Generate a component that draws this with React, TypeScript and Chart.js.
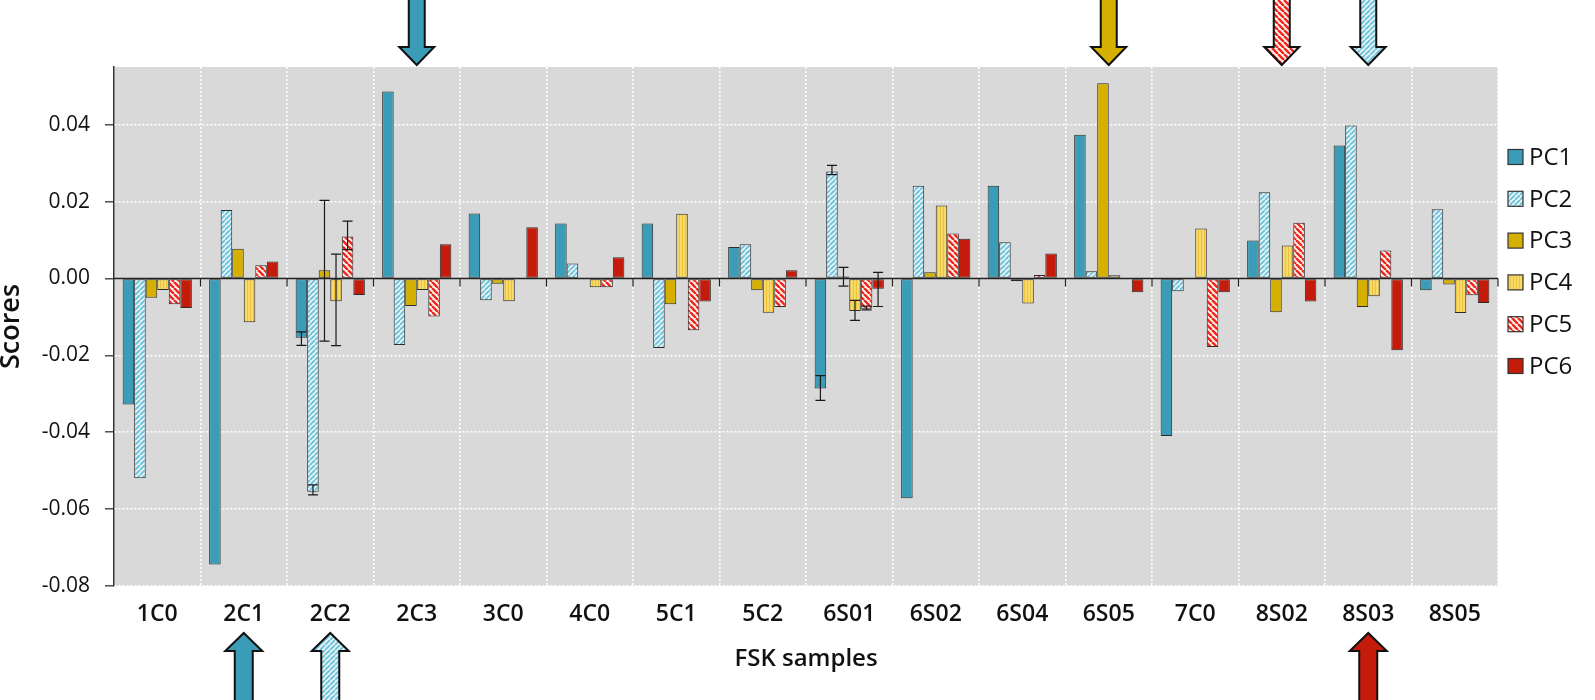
import React, { useEffect, useRef } from 'react';
import { Chart, registerables } from 'chart.js';

Chart.register(...registerables);

// ---------- data ----------
const categories = ['1C0', '2C1', '2C2', '2C3', '3C0', '4C0', '5C1', '5C2', '6S01', '6S02', '6S04', '6S05', '7C0', '8S02', '8S03', '8S05'];
const seriesNames = ['PC1', 'PC2', 'PC3', 'PC4', 'PC5', 'PC6'];

const pc1 = [-0.0328, -0.0744, -0.0154, 0.0486, 0.0169, 0.0143, 0.0143, 0.0082, -0.0286, -0.0572, 0.0241, 0.0374, -0.0410, 0.0099, 0.0346, -0.0031];
const pc2 = [-0.0520, 0.0178, -0.0555, -0.0173, -0.0057, 0.0039, -0.0181, 0.0089, 0.0278, 0.0241, 0.0094, 0.0019, -0.0033, 0.0224, 0.0398, 0.0180];
const pc3 = [-0.0050, 0.0077, 0.0021, -0.0072, -0.0014, -0.0002, -0.0067, -0.0031, 0.0005, 0.0016, -0.0007, 0.0508, 0.0002, -0.0088, -0.0074, -0.0016];
const pc4 = [-0.0030, -0.0114, -0.0059, -0.0030, -0.0059, -0.0023, 0.0168, -0.0089, -0.0085, 0.0190, -0.0065, 0.0008, 0.0130, 0.0086, -0.0046, -0.0090];
const pc5 = [-0.0067, 0.0034, 0.0109, -0.0099, 0.0002, -0.0023, -0.0135, -0.0074, -0.0079, 0.0117, 0.0009, 0.0002, -0.0178, 0.0145, 0.0073, -0.0044];
const pc6 = [-0.0077, 0.0044, -0.0043, 0.0089, 0.0133, 0.0055, -0.0060, 0.0021, -0.0027, 0.0103, 0.0065, -0.0036, -0.0036, -0.0060, -0.0187, -0.0064];

// error bars: category, series index, low, high
const errorBars = [
  { cat: '2C2', s: 0, lo: -0.0174, hi: -0.0139 },
  { cat: '2C2', s: 1, lo: -0.0563, hi: -0.0537 },
  { cat: '2C2', s: 2, lo: -0.0163, hi: 0.0203 },
  { cat: '2C2', s: 3, lo: -0.0175, hi: 0.0063 },
  { cat: '2C2', s: 4, lo: 0.0075, hi: 0.0149 },
  { cat: '6S01', s: 0, lo: -0.0317, hi: -0.0253 },
  { cat: '6S01', s: 1, lo: 0.0270, hi: 0.0294 },
  { cat: '6S01', s: 2, lo: -0.0020, hi: 0.0029 },
  { cat: '6S01', s: 3, lo: -0.0109, hi: -0.0057 },
  { cat: '6S01', s: 4, lo: -0.0082, hi: -0.0072 },
  { cat: '6S01', s: 5, lo: -0.0073, hi: 0.0016 },
];

// highlighted arrows: category, series index, side
const arrows = [
  { cat: '2C3', s: 0, side: 'top' },
  { cat: '6S05', s: 2, side: 'top' },
  { cat: '8S02', s: 4, side: 'top' },
  { cat: '8S03', s: 1, side: 'top' },
  { cat: '2C1', s: 0, side: 'bottom' },
  { cat: '2C2', s: 1, side: 'bottom' },
  { cat: '8S03', s: 5, side: 'bottom' },
];

const yTickValues = [-0.08, -0.06, -0.04, -0.02, 0, 0.02, 0.04];
const yMin = -0.08;
const yMax = 0.055;

// ---------- styles ----------
function stripePattern(bg: string, fg: string, size: number, width: number, dir: string): CanvasPattern | string {
  const c = document.createElement('canvas');
  c.width = size;
  c.height = size;
  const g = c.getContext('2d');
  if (!g) return bg;
  g.fillStyle = bg;
  g.fillRect(0, 0, size, size);
  g.strokeStyle = fg;
  g.lineWidth = width;
  g.beginPath();
  if (dir === 'v') {
    g.moveTo(size / 2, 0);
    g.lineTo(size / 2, size);
  } else {
    for (let k = -1; k <= 1; k++) {
      if (dir === '/') {
        g.moveTo(k * size, size);
        g.lineTo(k * size + size, 0);
      } else {
        g.moveTo(k * size, 0);
        g.lineTo(k * size + size, size);
      }
    }
  }
  g.stroke();
  const p = g.createPattern(c, 'repeat');
  return p || bg;
}

function makeFills(): (string | CanvasPattern)[] {
  return [
    '#3a9cb6',
    stripePattern('#eef8fb', '#72c4da', 5, 2, '/'),
    '#d5b000',
    stripePattern('#f7da6a', '#ebc23a', 3, 1, 'v'),
    stripePattern('#ffffff', '#f4281c', 6, 2.6, '\\'),
    '#c41b0b',
  ];
}

const FONT = "'Open Sans', 'Noto Sans', sans-serif";

export default function App() {
  const ref = useRef<HTMLCanvasElement | null>(null);

  useEffect(() => {
    document.body.style.margin = '0';
    const canvas = ref.current;
    if (!canvas) return;
    const fills = makeFills();
    const seriesData = [pc1, pc2, pc3, pc4, pc5, pc6];

    const bgPlugin = {
      id: 'plotBg',
      beforeDraw(chart: any) {
        const { ctx, chartArea } = chart;
        ctx.save();
        ctx.fillStyle = '#d9d9d9';
        ctx.fillRect(chartArea.left, chartArea.top, chartArea.right - chartArea.left, chartArea.bottom - chartArea.top);
        ctx.restore();
      },
    };

    const overlayPlugin = {
      id: 'overlay',
      afterDatasetsDraw(chart: any) {
        const { ctx, chartArea, scales } = chart;
        const x = scales.x;
        const y = scales.y;
        const y0 = y.getPixelForValue(0);
        ctx.save();
        // zero line
        ctx.strokeStyle = '#222';
        ctx.lineWidth = 1.5;
        ctx.beginPath();
        ctx.moveTo(chartArea.left, y0);
        ctx.lineTo(chartArea.right, y0);
        ctx.stroke();
        // category boundary ticks on the zero line
        const half = (x.getPixelForValue(1) - x.getPixelForValue(0)) / 2;
        ctx.lineWidth = 1.2;
        for (let i = 0; i < categories.length; i++) {
          const bx = x.getPixelForValue(i) + half;
          ctx.beginPath();
          ctx.moveTo(bx, y0);
          ctx.lineTo(bx, y0 + 8);
          ctx.stroke();
        }
        // error bars
        ctx.strokeStyle = '#1a1a1a';
        ctx.lineWidth = 1.2;
        errorBars.forEach((e) => {
          const idx = categories.indexOf(e.cat);
          const el = chart.getDatasetMeta(e.s).data[idx];
          if (!el) return;
          const ex = el.x;
          const ylo = y.getPixelForValue(e.lo);
          const yhi = y.getPixelForValue(e.hi);
          ctx.beginPath();
          ctx.moveTo(ex, ylo);
          ctx.lineTo(ex, yhi);
          ctx.moveTo(ex - 5, ylo);
          ctx.lineTo(ex + 5, ylo);
          ctx.moveTo(ex - 5, yhi);
          ctx.lineTo(ex + 5, yhi);
          ctx.stroke();
        });
        ctx.restore();
      },
      afterDraw(chart: any) {
        const { ctx, scales } = chart;
        const x = scales.x;
        ctx.save();
        // arrows
        arrows.forEach((a) => {
          const cx = x.getPixelForValue(categories.indexOf(a.cat));
          const sw = 16;
          const hw = 35;
          let pts: number[][];
          if (a.side === 'top') {
            const y0 = -3, hb = 47, tip = 65;
            pts = [[cx - sw / 2, y0], [cx + sw / 2, y0], [cx + sw / 2, hb], [cx + hw / 2, hb], [cx, tip], [cx - hw / 2, hb], [cx - sw / 2, hb]];
          } else {
            const y0 = 703, hb = 651, tip = 633;
            pts = [[cx - sw / 2 - 1, y0], [cx + sw / 2 + 1, y0], [cx + sw / 2 + 1, hb], [cx + hw / 2 + 1, hb], [cx, tip], [cx - hw / 2 - 1, hb], [cx - sw / 2 - 1, hb]];
          }
          ctx.beginPath();
          pts.forEach((p, i) => (i === 0 ? ctx.moveTo(p[0], p[1]) : ctx.lineTo(p[0], p[1])));
          ctx.closePath();
          ctx.fillStyle = fills[a.s] as any;
          ctx.fill();
          ctx.strokeStyle = '#111';
          ctx.lineWidth = 2;
          ctx.lineJoin = 'miter';
          ctx.stroke();
        });
        // legend
        const lx = 1508;
        const ly0 = 157;
        const step = 41.8;
        ctx.font = `24px ${FONT}`;
        ctx.textBaseline = 'middle';
        ctx.textAlign = 'left';
        seriesNames.forEach((n, i) => {
          const cy = ly0 + i * step;
          ctx.fillStyle = fills[i] as any;
          ctx.fillRect(lx, cy - 7.5, 15, 15);
          ctx.strokeStyle = '#333';
          ctx.lineWidth = 1.2;
          ctx.strokeRect(lx, cy - 7.5, 15, 15);
          ctx.fillStyle = '#111';
          ctx.fillText(n, lx + 21, cy + 1);
        });
        ctx.restore();
      },
    };

    const chart = new Chart(canvas, {
      type: 'bar',
      data: {
        labels: categories,
        datasets: seriesNames.map((n, i) => ({
          label: n,
          data: seriesData[i],
          backgroundColor: fills[i] as any,
          borderColor: '#2b2b2b',
          borderWidth: 1,
          borderSkipped: false,
          categoryPercentage: 0.8,
          barPercentage: 1.0,
        })),
      },
      options: {
        responsive: false,
        animation: false,
        layout: { padding: { top: 67, right: 97, left: 0, bottom: 0 } },
        plugins: {
          legend: { display: false },
          tooltip: { enabled: false },
        },
        scales: {
          x: {
            grid: {
              offset: true,
              color: '#ffffff',
              lineWidth: 1.6,
              drawTicks: false,
            },
            border: { display: false, dash: [2, 2] },
            ticks: {
              autoSkip: false,
              maxRotation: 0,
              padding: 15,
              color: '#111',
              font: { family: FONT, size: 23, weight: '600' },
            },
            title: {
              display: true,
              text: 'FSK samples',
              color: '#111',
              font: { family: FONT, size: 24, weight: '600' },
              padding: { top: 0, bottom: 26 },
            },
            afterFit: (s: any) => {
              s.height = 114;
            },
          },
          y: {
            min: yMin,
            max: yMax,
            afterBuildTicks: (s: any) => {
              s.ticks = yTickValues.map((v) => ({ value: v }));
            },
            grid: {
              color: (c: any) => (c.tick && Math.abs(c.tick.value) < 1e-9 ? 'rgba(0,0,0,0)' : '#ffffff'),
              lineWidth: 1.6,
              drawTicks: true,
              tickLength: 9,
              tickColor: '#333',
              tickWidth: 1.3,
            },
            border: { display: true, color: '#333', width: 1.5, dash: [2, 2] },
            ticks: {
              padding: 15,
              color: '#111',
              font: { family: FONT, size: 21 },
              callback: (v: any) => (Math.abs(Number(v)) < 1e-9 ? '0.00' : Number(v).toFixed(2)),
            },
            title: {
              display: true,
              text: 'Scores',
              color: '#111',
              font: { family: FONT, size: 27, weight: '600', lineHeight: 1 },
              padding: { top: -2, bottom: 0 },
            },
            afterFit: (s: any) => {
              s.width = 114;
            },
          },
        },
      },
      plugins: [bgPlugin, overlayPlugin],
    });

    return () => {
      chart.destroy();
    };
  }, []);

  return (
    <div style={{ width: 1595, height: 700, position: 'relative' }}>
      <canvas ref={ref} width={1595} height={700} style={{ display: 'block' }} />
    </div>
  );
}
